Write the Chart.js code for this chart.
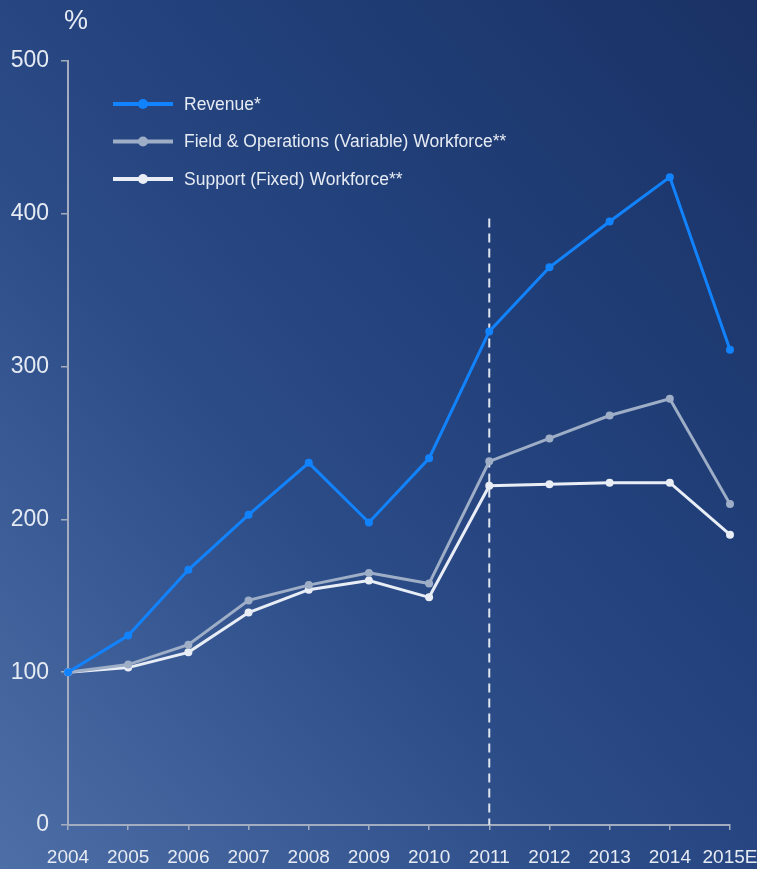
<!DOCTYPE html>
<html>
<head>
<meta charset="utf-8">
<script src="https://cdn.jsdelivr.net/npm/chart.js@4"></script>
<style>
  html, body { margin: 0; padding: 0; }
  body {
    width: 757px; height: 869px; overflow: hidden;
    background: linear-gradient(to top right, #4d6ea6 0%, #2c4c88 40%, #213f79 65%, #1a3265 100%);
  }
  #wrap { position: relative; width: 757px; height: 869px; }
</style>
</head>
<body>
<div id="wrap"><canvas id="myChart" width="757" height="869"></canvas></div>
<script>
var years = ["2004", "2005", "2006", "2007", "2008", "2009", "2010", "2011", "2012", "2013", "2014", "2015E"];
var revenue = [100, 124, 167, 203, 237, 198, 240, 323, 365, 395, 424, 311];
var fieldOps = [100, 105, 118, 147, 157, 165, 158, 238, 253, 268, 279, 210];
var support = [100, 103, 113, 139, 154, 160, 149, 222, 223, 224, 224, 190];
var yTicks = [0, 100, 200, 300, 400, 500];

// dashed divider drawn at 2011, up to this value
var dividerYear = "2011";
var dividerTop = 397;

var FONT = '"Liberation Sans Narrow", "Arial Narrow", "Liberation Sans", sans-serif';
var TEXT = "#e6ebf3";
var AXIS = "#a3adbf";

// legend + "%" label + divider line
var extras = {
  id: "extras",
  beforeDatasetsDraw: function (chart) {
    var ctx = chart.ctx, x = chart.scales.x, y = chart.scales.y;
    var px = x.getPixelForValue(years.indexOf(dividerYear));
    ctx.save();
    ctx.strokeStyle = "#dfe5ef";
    ctx.lineWidth = 2;
    ctx.setLineDash([9, 6]);
    ctx.beginPath();
    ctx.moveTo(px, y.getPixelForValue(dividerTop));
    ctx.lineTo(px, y.getPixelForValue(0));
    ctx.stroke();
    ctx.restore();
  },
  afterDraw: function (chart) {
    var ctx = chart.ctx, area = chart.chartArea;
    ctx.save();
    ctx.fillStyle = TEXT;
    ctx.font = "27px " + FONT;
    ctx.textAlign = "center";
    ctx.textBaseline = "middle";
    ctx.fillText("%", area.left + 8, 22);

    ctx.font = "17.5px " + FONT;
    ctx.textAlign = "left";
    chart.data.datasets.forEach(function (ds, i) {
      var cy = 104 + i * 37.5;
      ctx.strokeStyle = ds.borderColor;
      ctx.lineWidth = 4;
      ctx.beginPath();
      ctx.moveTo(113, cy);
      ctx.lineTo(173, cy);
      ctx.stroke();
      ctx.fillStyle = ds.borderColor;
      ctx.beginPath();
      ctx.arc(143, cy, 5, 0, Math.PI * 2);
      ctx.fill();
      ctx.fillStyle = TEXT;
      ctx.fillText(ds.label, 184, cy + 1);
    });
    ctx.restore();
  }
};

var myChart = document.getElementById("myChart").getContext("2d");

var chart = new Chart(myChart, {
  type: "line",
  data: {
    labels: years,
    datasets: [
      { label: "Revenue*", data: revenue, borderColor: "#1283ff", backgroundColor: "#1283ff" },
      { label: "Field & Operations (Variable) Workforce**", data: fieldOps, borderColor: "#9eaec7", backgroundColor: "#9eaec7" },
      { label: "Support (Fixed) Workforce**", data: support, borderColor: "#e9eef6", backgroundColor: "#e9eef6" }
    ].reverse()
  },
  options: {
    responsive: false,
    animation: false,
    devicePixelRatio: 1,
    layout: { padding: { top: 61, right: 27, bottom: 0, left: 0 } },
    elements: {
      line: { borderWidth: 3, tension: 0 },
      point: { radius: 4, borderWidth: 0, hoverRadius: 4 }
    },
    plugins: {
      legend: { display: false },
      tooltip: { enabled: false }
    },
    scales: {
      x: {
        offset: false,
        grid: { display: true, drawOnChartArea: false, tickLength: 5, color: AXIS, lineWidth: 1.5 },
        border: { color: AXIS, width: 2 },
        ticks: { color: TEXT, font: { family: FONT, size: 19 }, padding: 16, maxRotation: 0, autoSkip: false },
        afterFit: function (s) { s.height = 44; s.paddingRight = 0; s.paddingLeft = 0; }
      },
      y: {
        min: 0, max: 500,
        afterBuildTicks: function (s) { s.ticks = yTicks.map(function (v) { return { value: v }; }); },
        grid: { display: true, drawOnChartArea: false, tickLength: 7, color: AXIS, lineWidth: 1.5 },
        border: { color: AXIS, width: 2 },
        ticks: { color: TEXT, font: { family: FONT, size: 23 }, padding: 12 },
        afterFit: function (s) { s.width = 68; }
      }
    }
  },
  plugins: [extras]
});
// legend order follows the original series order
chart.data.datasets.reverse();
chart.update();
</script>
</body>
</html>
